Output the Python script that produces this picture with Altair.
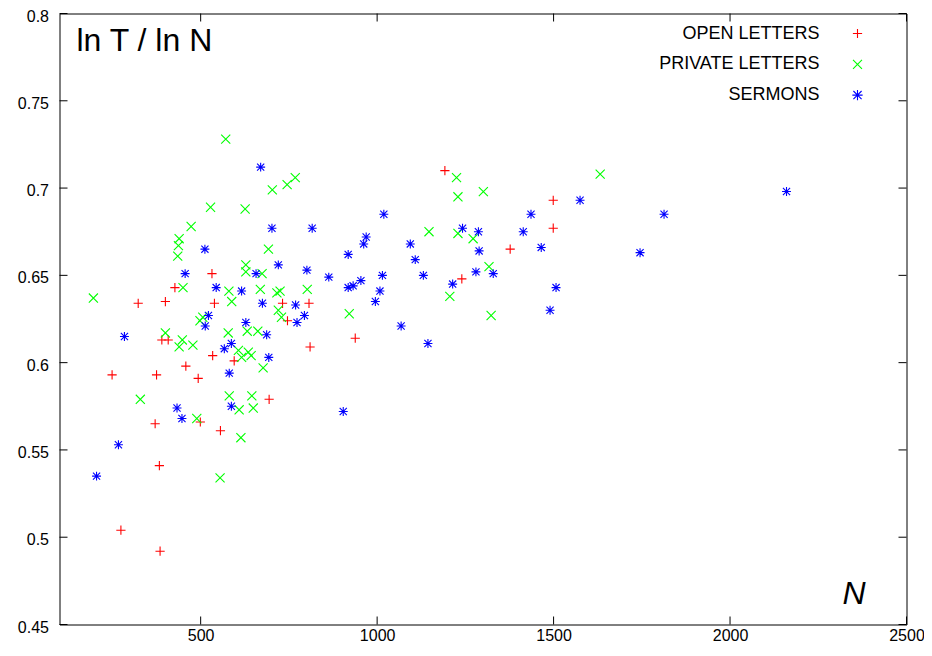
import altair as alt
import pandas as pd

series_names = ["OPEN LETTERS", "PRIVATE LETTERS", "SERMONS"]
series_colors = ["#ff0000", "#00ff00", "#0000ff"]
series_shapes = [
    "M-1,0L1,0M0,-1L0,1",
    "M-1,-1L1,1M-1,1L1,-1",
    "M-1,0L1,0M0,-1L0,1M-0.8,-0.8L0.8,0.8M-0.8,0.8L0.8,-0.8",
]
series_sizes = [85, 80, 105]

open_n = [1192, 1499, 1499, 1377, 1240, 532, 427, 323, 400, 539, 732, 807, 746,
          390, 408, 534, 595, 249, 375, 458, 493, 810, 938, 694, 499, 371, 556,
          383, 274, 385]
open_r = [0.710, 0.693, 0.677, 0.665, 0.648, 0.651, 0.643, 0.634, 0.635, 0.634,
          0.634, 0.634, 0.624, 0.613, 0.613, 0.604, 0.601, 0.593, 0.593, 0.598,
          0.591, 0.609, 0.614, 0.579, 0.566, 0.565, 0.561, 0.541, 0.504, 0.492]

private_n = [571, 703, 745, 768, 528, 626, 473, 439, 437, 692, 435, 628, 628, 674,
             450, 580, 669, 716, 725, 802, 196, 588, 720, 506, 498, 729, 921, 578,
             632, 662, 400, 448, 439, 478, 607, 635, 616, 643, 677, 329, 581, 645,
             609, 649, 489, 614, 555, 1632, 1225, 1229, 1301, 1147, 1229, 1272,
             1317, 1206, 1323]
private_r = [0.728, 0.699, 0.702, 0.706, 0.689, 0.688, 0.678, 0.671, 0.667, 0.665,
             0.661, 0.656, 0.652, 0.651, 0.643, 0.641, 0.642, 0.640, 0.641, 0.642,
             0.637, 0.635, 0.630, 0.626, 0.624, 0.626, 0.628, 0.617, 0.618, 0.618,
             0.617, 0.613, 0.609, 0.610, 0.607, 0.606, 0.603, 0.604, 0.597, 0.579,
             0.581, 0.581, 0.573, 0.574, 0.568, 0.557, 0.534, 0.708, 0.706, 0.695,
             0.698, 0.675, 0.674, 0.671, 0.655, 0.638, 0.627]

sermon_n = [670, 702, 512, 720, 456, 657, 544, 616, 675, 522, 513, 628, 687, 284,
            587, 567, 693, 581, 433, 587, 447, 267, 205, 1019, 816, 969, 962, 918,
            1094, 1108, 801, 863, 1131, 954, 918, 932, 1015, 1214, 1008, 995, 769,
            794, 773, 1068, 1144, 904, 1242, 1287, 1414, 1436, 1575, 1465, 1289,
            1745, 1280, 1329, 1507, 1490, 1813, 2160]
sermon_r = [0.712, 0.677, 0.665, 0.656, 0.651, 0.651, 0.643, 0.641, 0.634, 0.627,
            0.621, 0.623, 0.616, 0.615, 0.611, 0.608, 0.603, 0.594, 0.574, 0.575,
            0.568, 0.553, 0.535, 0.685, 0.677, 0.672, 0.668, 0.662, 0.668, 0.659,
            0.653, 0.649, 0.650, 0.647, 0.643, 0.644, 0.650, 0.645, 0.641, 0.635,
            0.633, 0.627, 0.623, 0.621, 0.611, 0.572, 0.677, 0.675, 0.675, 0.685,
            0.693, 0.666, 0.664, 0.663, 0.652, 0.651, 0.643, 0.630, 0.685, 0.698]

x_ticks = [500, 1000, 1500, 2000, 2500]
y_ticks = [0.45, 0.5, 0.55, 0.6, 0.65, 0.7, 0.75, 0.8]
x_domain = [100, 2500]
y_domain = [0.45, 0.8]
y_title = "ln T / ln N"
x_title = "N"

W, H = 847, 611
FONT = "Liberation Sans"

rows = []
for name, ns, rs in [(series_names[0], open_n, open_r),
                     (series_names[1], private_n, private_r),
                     (series_names[2], sermon_n, sermon_r)]:
    for n, r in zip(ns, rs):
        rows.append({"N": n, "ratio": r, "series": name})
df = pd.DataFrame(rows)

xs = alt.Scale(domain=x_domain, nice=False, zero=False)
ys = alt.Scale(domain=y_domain, nice=False, zero=False)

points = alt.Chart(df).mark_point(filled=False, strokeWidth=1.1, opacity=1).encode(
    x=alt.X("N:Q", scale=xs,
            axis=alt.Axis(values=x_ticks, format="d", ticks=False, domain=False,
                          grid=False, title=None, labelFontSize=16, labelFont=FONT,
                          labelColor="black", labelPadding=3, labelFlush=False)),
    y=alt.Y("ratio:Q", scale=ys,
            axis=alt.Axis(values=y_ticks, format=".2~f", ticks=False, domain=False,
                          grid=False, title=None, labelFontSize=16, labelFont=FONT,
                          labelColor="black", labelPadding=11, labelFlush=False,
                          labelOffset=2.5)),
    color=alt.Color("series:N", scale=alt.Scale(domain=series_names, range=series_colors), legend=None),
    shape=alt.Shape("series:N", scale=alt.Scale(domain=series_names, range=series_shapes), legend=None),
    size=alt.Size("series:N", scale=alt.Scale(domain=series_names, range=series_sizes), legend=None),
)

xt = pd.DataFrame({"t": x_ticks})
yt = pd.DataFrame({"t": y_ticks})
tick_bottom = alt.Chart(xt).mark_rule(color="black", strokeWidth=1).encode(
    x=alt.X("t:Q", scale=xs), y=alt.value(H), y2=alt.value(H - 8))
tick_top = alt.Chart(xt).mark_rule(color="black", strokeWidth=1).encode(
    x=alt.X("t:Q", scale=xs), y=alt.value(0), y2=alt.value(8))
tick_left = alt.Chart(yt).mark_rule(color="black", strokeWidth=1).encode(
    y=alt.Y("t:Q", scale=ys), x=alt.value(0), x2=alt.value(8))
tick_right = alt.Chart(yt).mark_rule(color="black", strokeWidth=1).encode(
    y=alt.Y("t:Q", scale=ys), x=alt.value(W), x2=alt.value(W - 8))

title_txt = alt.Chart(pd.DataFrame({"t": [y_title]})).mark_text(
    align="left", baseline="alphabetic", fontSize=32, font=FONT, color="black").encode(
    text="t:N", x=alt.value(17), y=alt.value(37))
n_txt = alt.Chart(pd.DataFrame({"t": [x_title]})).mark_text(
    align="right", baseline="alphabetic", fontSize=32, font=FONT, fontStyle="italic",
    color="black").encode(text="t:N", x=alt.value(806), y=alt.value(590))

legend_layers = []
for i, name in enumerate(series_names):
    ly = 20 + i * 30.8
    ldf = pd.DataFrame({"t": [name]})
    legend_layers.append(alt.Chart(ldf).mark_text(
        align="right", baseline="middle", fontSize=18, font=FONT, color="black").encode(
        text="t:N", x=alt.value(760), y=alt.value(ly)))
    legend_layers.append(alt.Chart(ldf).mark_point(
        shape=series_shapes[i], filled=False, strokeWidth=1.1, opacity=1,
        color=series_colors[i], size=series_sizes[i]).encode(
        x=alt.value(798), y=alt.value(ly)))

chart = alt.layer(points, tick_bottom, tick_top, tick_left, tick_right,
                  title_txt, n_txt, *legend_layers).properties(
    width=W, height=H,
    background="white",
    autosize=alt.AutoSizeParams(type="none"),
    padding={"left": 51.5, "top": 5.5, "right": 17, "bottom": 30},
).configure_view(stroke="black", strokeWidth=1)

chart.save("out.html", embed_options={"renderer": "svg", "actions": False})
